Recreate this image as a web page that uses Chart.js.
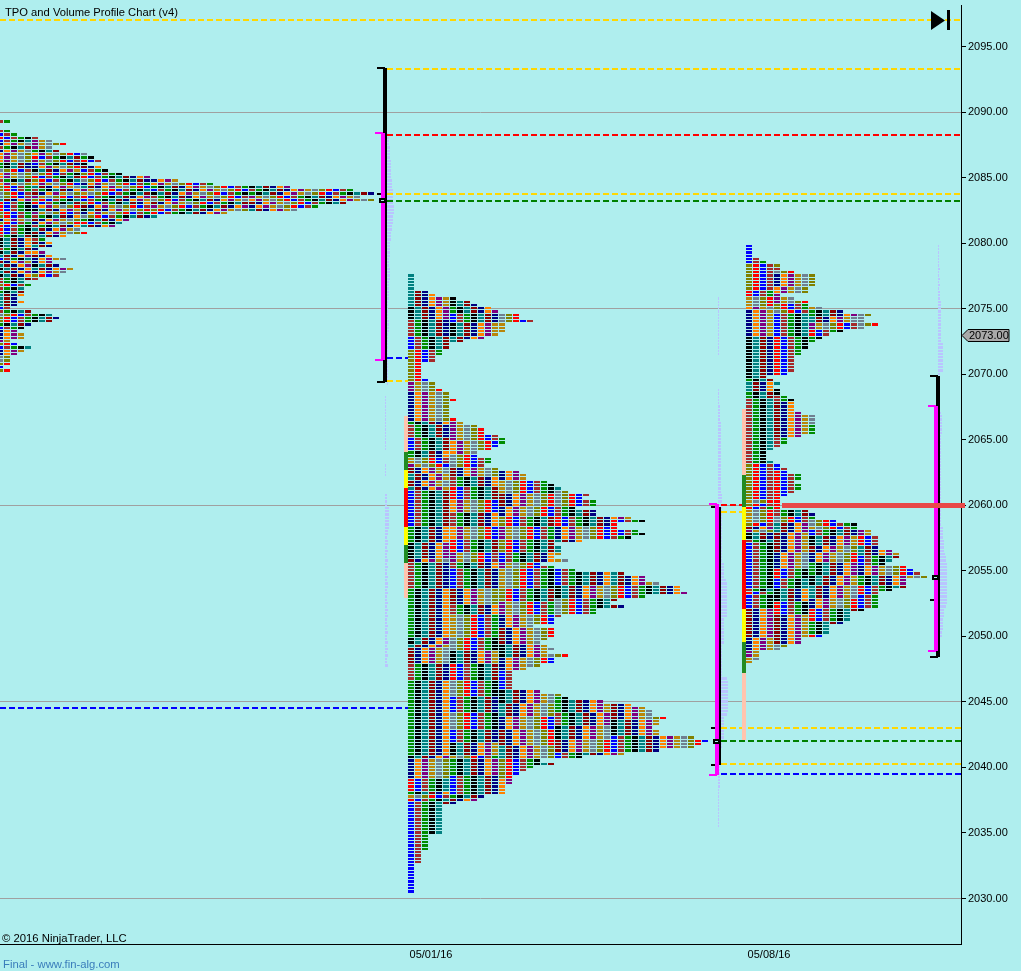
<!DOCTYPE html>
<html>
<head>
<meta charset="utf-8">
<title>TPO and Volume Profile Chart (v4)</title>
<script src="https://cdn.jsdelivr.net/npm/chart.js@4"></script>
<style>
  body { margin: 0; background: #AFEEEE; overflow: hidden; }
  #wrap { position: relative; width: 1021px; height: 971px; }
  canvas { position: absolute; left: 0; top: 0; }
  .txt { position: absolute; font: 11px "Liberation Sans", Arial, sans-serif; color: #000; white-space: nowrap; line-height: 13px; }
</style>
</head>
<body>
<div id="wrap">
  <canvas id="chart" width="1021" height="971"></canvas>
  <div class="txt" style="left:5px;top:6px;font-size:11.2px">TPO and Volume Profile Chart (v4)</div>
  <div class="txt" style="left:2px;top:932px;font-size:11.3px">© 2016 NinjaTrader, LLC</div>
  <div class="txt" style="left:3px;top:958px;color:#3A7DBB;font-size:11.3px">Final - www.fin-alg.com</div>
</div>
<script>
// x axis is in TPO slots (one column per slot), y axis is price
const tickSize = 0.25;
const priceTicks = [2030, 2035, 2040, 2045, 2050, 2055, 2060, 2065, 2070, 2075, 2080, 2085, 2090, 2095];
const dateSlots = [61.57, 109.86];
const dateLabels = ["05/01/16", "05/08/16"];

// colours cycle in this order, one letter each
const colourKeys = "bBgktdnopGyOr";
const tpoColours = ["#0000FF", "#A52A2A", "#008C00", "#000000", "#008080", "#8B0000", "#000080", "#FF8000", "#800080", "#B8860B", "#708090", "#808000", "#FF0000"];

// "t10 k4" -> letter per row, "." keeps the running colour
function runs(text) {
  return text.split(" ").map(r => r[0].repeat(Number(r.slice(1)))).join("");
}

// row counts from the top price of each profile down
const p1Top = 2089.25;
const p1Origin = -0.43;
const p1Widths = [2,0,0,2,3,6,8,10,8,9, 13,14,15,13,15,16,18,22,26,31, 42,51,54,52,54,50,46,43,33,23, 19,18,17,12,13,10,7,8,8,6, 7,8,10,8,9,11,10,9,6,4, 5,4,4,4,3,4,3,2,5,8, 9,8,5,4,3,4,4,2,3,5, 4,3,2,2,2,1,2];
const p1First = "BBBBbrbnBn" + "oooggyooBo" + "OOyytrrrOO" + "nOrrrBkkkB" + "ktbdtktkBB" + "OBgttttbBy" + "OOgbnnnpOb" + "nnyyObO";
// colour met at a given column, read down the column
const p1Cols = [5, 12, 22, 36];
const p1Phases = [
  runs(".5 B1 p3 g1 o1 r1 p1 b1 n1 k1 y1 r1 O1 o1 t1 B1 d1 p1 O1 r1 n1 k1 p1 B1 d1 n1 B1 t1 d1 k1 B1 d1 t1 n1 o1 d1 n2 k1 t1 n1 O1 B1"),
  runs(".10 y1 g1 r1 k1 d1 b1 O1 r1 y1 n1 t1 p1 G1 r1 b1 O1 d1 k1 n1 y1 g1 r1 t1"),
  runs(".18 n1 o1 g1 b1 k1 B1 y1 d1 p1 O1 r1 t1"),
  runs(".20 k1 B1 g1 p1 o1 d1 n1 t1 r1")
];

const p2Top = 2077.5;
const p2Origin = 58.29;
const p2Widths = [1,1,1,1,1,3,4,7,9,10, 12,13,16,16,18,14,14,14,13,11, 8,6,6,5,5,4,4,2,2,2, 2,2,3,4,4,5,6,6,7,6, 6,6,6,6,7,8,10,11,11,13, 14,14,13,12,10,10,12,12,11,13, 16,17,17,20,21,22,23,26,25,27, 27,24,27,27,32,34,30,30,33,34, 32,25,21,22,22,22,21,23,19,21,
  24,31,34,34,36,39,39,40,34,30, 29,31,27,27,22,21,21,18,21,21, 21,20,19,20,21,20,23,21,21,19, 17,15,15,15,15,15,15,19,22,23, 28,32,34,35,35,37,36,36,35,36, 36,41,43,42,41,36,31,25,19,21, 18,17,16,15,15,15,14,14,14,11, 10,7,5,5,5,5,5,5,5,5, 5,3,3,3,3,3,2,2,2,2, 1,1,1,1,1,1,1,1,1];
const p2First = runs("t10 k4 B5 b4 O10 p3 n9 g1 B4 b4 g2 G2 p1 d2 t2 d2 t1 b11 g5 k5 d1 B8 g15 k2 t1 d5 B5 g23 k1 n6 r4 g1 G1 r1 b28");
const p2Cols = [6, 13, 21, 29];
const p2Phases = [
  runs(".7 k3 g2 b3 k4 t2 .24 p6 o4 y4 d3 B3 r4 o4 B4 o4 r4 p3 B2 b6 d5 B3 G7 y4 k4 r5 y5 b5 y5 b4 k4 G1 g5 b6"),
  runs(".11 y4 G4 .30 g4 .7 n3 G4 d4 n3 O3 p4 O4 b3 p2 G6 O4 p4 n4 d5 k4 n4 b6 k4 t4 n4 d5 t4 O6"),
  runs(".66 y5 B3 r3 n4 t4 G5 b5 k4 y5 .25 g5 B4 k4 d4 b4"),
  runs(".75 r5 .11 t4 O4 .32 d5 k5 b5")
];

const p3Top = 2079.75;
const p3Origin = 106.57;
const p3Widths = [1,1,1,1,2,3,5,5,7,10, 10,10,10,9,9,5,7,9,9,11, 14,18,17,17,19,17,14,12,11,10, 9,9,8,8,7,7,7,7,7,6, 3,4,5,4,5,5,6,7,7,7, 7,8,10,10,10,10,10,10,8,6, 6,5,4,3,3,3,4,5,6,6, 8,8,7,8,8,7,6,5,
  5,5,5,9,10,10,13,16,16,18, 18,19,19,19,19,21,22,22,21,20, 23,24,25,26,23,23,23,21,19,19, 19,19,19,17,15,15,15,14,12,12, 12,11,8,8,6,5,2,2,2,1];
const p3First = runs("b6 O8 r2 G3 o1 n8 k13 g1 t3 g2 B20 O11 G1 O1 r1 G4 O1 d1 p1 k2 B1 b14 B1 r1 b4 d9 n4 p2 G2");
const p3Cols = [4, 9, 16];
const p3Phases = [
  runs(".6 O1 B1 y1 n4 o2 p3 O2 y1 b7 r13 .1 t2 k2 B2 d11 B5 .2 b3 r9 r3 B2 y2 t3 d6 n5 r3 b3 k4 r4 d9 y4"),
  runs(".9 O4 y2 .2 y2 G1 g2 t2 p2 r2 g2 y1 B1 .23 g6 .23 y2 G1 b2 k3 d2 n3 g4 k3 t4 n3 r4 g4 r3 b6"),
  runs(".21 y5 .59 G1 O1 p2 r3 t3 b3 n3 g3 r3 b4 k4 g3 d3")
];

// faint volume profiles, px wide per row, from the top price down
const volATop = 2088.25;
const volAStart = 55.29;
const volA = [1,2,2,2,3,3,3,3,4,4,4,4,4,4,5,5,5,6,6,6,6,6,7,7,7,6,6,6,5,5,4,4,4,3,3,3,3,3,2,2,2,3,3,3,3,2,2,2,2,2,2,1,1,1,1,1,1,2,2,2,2,1,1,1,1,1,1,1,1,1,1,1,1,1,1,1,1];
const volBTop = 2068.25;
const volBStart = 55;
const volB = [1,1,1,1,1,1,1,1,1,1,1,1,1,1,1,1,1,0,0,0,0,1,1,1,1,0,0,0,0,0,2,2,2,2,4,4,4,4,4,4,4,3,3,2,3,3,2,3,2,2,3,2,3,2,2,3,2,3,3,2,3,2,2,3,2,3,2,3,2,2,3,2,3,2,2,3,2,3,2,3,2,2,3];
const volCTop = 2075.75;
const volCStart = 102.57;
const volC = [1,1,1,1,1,1,1,1,1,1,1,1,1,1,1,1,1,1,0,0,0,0,0,0,0,0,0,0,1,1,1,1,1,2,2,2,2,2,3,3,3,3,3,3,3,3,3,3,3,3,3,3,3,3,3,3,3,3,3,3,4,4,4,4,4,4,4,4,4,4,4,4,4,4,4,4,4,4,4,4,4,6,6,6,6,6,8,9,9,9,9,9,9,9,9,9,9,9,6,6,6,6,6,6,6,6,4,4,4,4,4,4,4,4,4,4,9,10,10,10,10,10,10,10,10,10,10,9,6,6,6,6,6,6,6,4,4,4,2,2,2,2,2,2,2,2,2,2,2,2,1,1,1,1,1,1,1,1,1,1,1,1];
const volDTop = 2079.75;
const volDStart = 134;
const volD = [1,1,1,1,1,1,1,2,1,1,2,1,2,1,2,2,2,3,3,3,3,3,3,3,3,3,3,3,3,3,5,5,5,5,5,5,5,5,5,2,2,1,1,1,1,1,2,2,2,2,2,3,4,4,4,4,4,4,3,3,3,3,3,3,3,3,3,3,3,3,3,3,3,3,3,3,3,3,3,3,3,3,3,3,3,3,5,5,5,5,6,6,6,6,7,8,8,9,9,9,9,9,9,9,9,9,9,9,9,9,8,6,6,6,5,5,5,5,4,4];

// dashed levels
const levelPrices = [2097, 2093.25, 2088.25, 2083.75, 2083.25, 2071.25, 2069.5, 2044.5, 2060, 2059.5, 2043, 2042, 2040.25, 2039.5];
const levelFrom = [0, 55.29, 55.29, 55.29, 55.29, 55.29, 55.29, 0, 103, 103, 103, 103, 103, 103];
const levelTo = [137.3, 137.3, 137.3, 137.3, 137.3, 58.29, 58.29, 58.29, 106.57, 106.57, 137.3, 137.3, 137.3, 137.3];
const levelColours = ["#FFD700", "#FFD700", "#FF0000", "#FFD700", "#008000", "#0000FF", "#FFD700", "#0000FF", "#FF0000", "#FFD700", "#FFD700", "#008000", "#FFD700", "#0000FF"];

// range brackets for the three sessions
const blackX = [55, 102.71, 134];
const blackHigh = [2093.4, 2059.9, 2069.9];
const blackLow = [2069.4, 2040.15, 2048.4];
const magentaX = [54.71, 102.43, 133.71];
const magentaHigh = [2088.4, 2060.1, 2067.6];
const magentaLow = [2071.1, 2039.4, 2048.9];

// small marks next to the brackets
const tickPrices = [2083.75, 2043, 2052.75];
const tickX = [53.86, 101.57, 132.86];
const boxPrices = [2083.25, 2042, 2054.5];
const boxX = [54.14, 101.86, 133.14];

// coloured strips left of the profiles: boundaries top to bottom
const stripP2X = 58;
const stripP2Prices = [2066.85, 2064.1, 2062.73, 2061.35, 2058.38, 2057, 2055.63, 2052.89];
const stripP3X = 106.29;
const stripP3Prices = [2067.38, 2062.35, 2059.9, 2057.39, 2052.12, 2049.6, 2047.17, 2042.13];
const stripColours = ["#FFC4AE", "#228B22", "#FFFF00", "#FF0000", "#FFFF00", "#228B22", "#FFC4AE"];

const lastPrice = 2073;
const pocPrice = 2060;
const pocFrom = 111.71;
const pocTo = 137.86;

const cellWidth = 6 / 7;
const cells = tpoColours.map(() => []);

function addProfile(top, origin, widths, first, cols, phases) {
  widths.forEach((w, r) => {
    let colour = colourKeys.indexOf(first[r]);
    for (let k = 0; k < w; k++) {
      const phase = cols.indexOf(k);
      if (k > 0) colour = (colour + 1) % 13;
      if (phase >= 0 && colourKeys.includes(phases[phase][r])) colour = colourKeys.indexOf(phases[phase][r]);
      cells[colour].push({ y: top - r * tickSize, x: [origin + k, origin + k + cellWidth] });
    }
  });
}
addProfile(p1Top, p1Origin, p1Widths, p1First, p1Cols, p1Phases);
addProfile(p2Top, p2Origin, p2Widths, p2First, p2Cols, p2Phases);
addProfile(p3Top, p3Origin, p3Widths, p3First, p3Cols, p3Phases);

const volume = [];
function addVolume(top, start, values) {
  values.forEach((v, r) => {
    if (v > 0) volume.push({ y: top - r * tickSize, x: [start, start + v / 7] });
  });
}
addVolume(volATop, volAStart, volA);
addVolume(volBTop, volBStart, volB);
addVolume(volCTop, volCStart, volC);
addVolume(volDTop, volDStart, volD);

function barSet(data, colour, order) {
  return { type: "bar", indexAxis: "y", grouped: false, data, backgroundColor: colour, borderWidth: 0, barThickness: 2, inflateAmount: 0, order };
}
function lineSet(points, colour, width, order, dash, clip) {
  const set = { type: "line", data: points, borderColor: colour, borderWidth: width, borderDash: dash || [], pointRadius: 0, tension: 0, fill: false, borderCapStyle: "butt", order };
  if (clip === false) set.clip = false;
  return set;
}
function seg(x1, y1, x2, y2) {
  return [{ x: x1, y: y1 }, { x: x2, y: y2 }];
}

const datasets = [];
datasets.push(barSet(volume, "#B9C4FF", 50));
tpoColours.forEach((c, i) => datasets.push(barSet(cells[i], c, 40)));
levelPrices.forEach((p, i) => {
  datasets.push(lineSet(seg(levelFrom[i], p, levelTo[i], p), levelColours[i], 2, 30, [6, 3]));
});
stripColours.forEach((c, i) => {
  datasets.push(lineSet(seg(stripP2X, stripP2Prices[i], stripP2X, stripP2Prices[i + 1]), c, 4, 20));
  datasets.push(lineSet(seg(stripP3X, stripP3Prices[i], stripP3X, stripP3Prices[i + 1]), c, 4, 20));
});
const capLen = 8 / 7;
blackX.forEach((x, i) => {
  datasets.push(lineSet(seg(x, blackHigh[i], x, blackLow[i]), "#000000", 4, 12));
  datasets.push(lineSet(seg(x - capLen, blackHigh[i], x, blackHigh[i]), "#000000", 2, 12));
  datasets.push(lineSet(seg(x - capLen, blackLow[i], x, blackLow[i]), "#000000", 2, 12));
  datasets.push(lineSet(seg(tickX[i], tickPrices[i], tickX[i] + 4 / 7, tickPrices[i]), "#000000", 2, 12));
});
magentaX.forEach((x, i) => {
  datasets.push(lineSet(seg(x, magentaHigh[i], x, magentaLow[i]), "#FF00FF", 4, 10));
  datasets.push(lineSet(seg(x - capLen, magentaHigh[i], x, magentaHigh[i]), "#FF00FF", 2, 10));
  datasets.push(lineSet(seg(x - capLen, magentaLow[i], x, magentaLow[i]), "#FF00FF", 2, 10));
});
boxPrices.forEach((p, i) => {
  datasets.push(lineSet(seg(boxX[i], p, boxX[i] + 1, p), "#000000", 5, 6));
  datasets.push(lineSet(seg(boxX[i] + 0.35, p, boxX[i] + 0.65, p), "#AFEEEE", 1, 5));
});
datasets.push(lineSet(seg(pocFrom, pocPrice, pocTo, pocPrice), "#E84848", 5, 1, [], false));

// keep the cells and lines on whole pixels like the original
const snapPlugin = {
  id: "snap",
  afterDatasetsUpdate(chart) {
    const yScale = chart.scales.y;
    const pitch = Math.abs(yScale.getPixelForValue(2030) - yScale.getPixelForValue(2030 + tickSize));
    chart.data.datasets.forEach((ds, i) => {
      const meta = chart.getDatasetMeta(i);
      if (ds.type === "bar") {
        meta.data.forEach(el => {
          const top = Math.round(el.y - pitch / 2);
          const bottom = Math.round(el.y + pitch / 2) - 1;
          el.y = (top + bottom) / 2;
          el.height = bottom - top;
          el.base = Math.round(el.base);
          el.x = Math.round(el.x);
        });
      } else {
        const odd = ds.borderWidth % 2 === 1;
        meta.data.forEach(el => {
          el.y = odd ? Math.floor(el.y) + 0.5 : Math.round(el.y);
          el.x = Math.round(el.x);
        });
      }
    });
  }
};

const markerPlugin = {
  id: "markers",
  afterDraw(chart) {
    const ctx = chart.ctx;
    const area = chart.chartArea;
    const y = Math.round(chart.scales.y.getPixelForValue(lastPrice)) + 0.5;
    // last price flag
    ctx.save();
    ctx.beginPath();
    ctx.moveTo(area.right + 1, y);
    ctx.lineTo(area.right + 7, y - 6);
    ctx.lineTo(area.right + 48, y - 6);
    ctx.lineTo(area.right + 48, y + 6);
    ctx.lineTo(area.right + 7, y + 6);
    ctx.closePath();
    ctx.fillStyle = "#A9A9A9";
    ctx.fill();
    ctx.strokeStyle = "#000000";
    ctx.lineWidth = 1;
    ctx.stroke();
    ctx.fillStyle = "#000000";
    ctx.font = '11px "Liberation Sans", Arial, sans-serif';
    ctx.textBaseline = "middle";
    ctx.fillText(lastPrice.toFixed(2), area.right + 8, y + 0.5);
    // jump to end button
    ctx.beginPath();
    ctx.moveTo(931, 11);
    ctx.lineTo(945, 20.5);
    ctx.lineTo(931, 30);
    ctx.closePath();
    ctx.fill();
    ctx.fillRect(947, 10, 3, 20);
    ctx.restore();
  }
};

new Chart(document.getElementById("chart"), {
  type: "bar",
  data: { datasets },
  plugins: [snapPlugin, markerPlugin],
  options: {
    responsive: false,
    animation: false,
    events: [],
    layout: { padding: { top: 5, left: 0, right: 0, bottom: 0 } },
    plugins: { legend: { display: false }, tooltip: { enabled: false }, title: { display: false } },
    scales: {
      x: {
        type: "linear",
        offset: false,
        min: 0,
        max: 961 / 7,
        afterFit(scale) { scale.height = 27; scale.paddingLeft = 0; scale.paddingRight = 0; },
        afterBuildTicks(scale) { scale.ticks = dateSlots.map(v => ({ value: v })); },
        grid: { display: false, drawTicks: false, offset: false },
        border: { color: "#000000", width: 1 },
        ticks: {
          autoSkip: false,
          maxRotation: 0,
          padding: 4,
          color: "#000000",
          font: { family: '"Liberation Sans", Arial, sans-serif', size: 11 },
          callback(value) { return dateLabels[dateSlots.indexOf(value)]; }
        }
      },
      y: {
        type: "linear",
        position: "right",
        offset: false,
        min: 2026.53,
        max: 2098.17,
        afterFit(scale) { scale.width = 60; scale.paddingTop = 0; scale.paddingBottom = 0; },
        afterBuildTicks(scale) { scale.ticks = priceTicks.map(v => ({ value: v })); },
        grid: {
          offset: false,
          color(ctx) { return (ctx.tick && (ctx.tick.value - 2030) % 15 === 0) ? "#A0A0A0" : "rgba(0,0,0,0)"; },
          tickColor: "#000000",
          tickLength: 5,
          drawTicks: true
        },
        border: { color: "#000000", width: 1 },
        ticks: {
          autoSkip: false,
          padding: 2,
          color: "#000000",
          font: { family: '"Liberation Sans", Arial, sans-serif', size: 11 },
          callback(value) { return value.toFixed(2); }
        }
      }
    }
  }
});
</script>
</body>
</html>
